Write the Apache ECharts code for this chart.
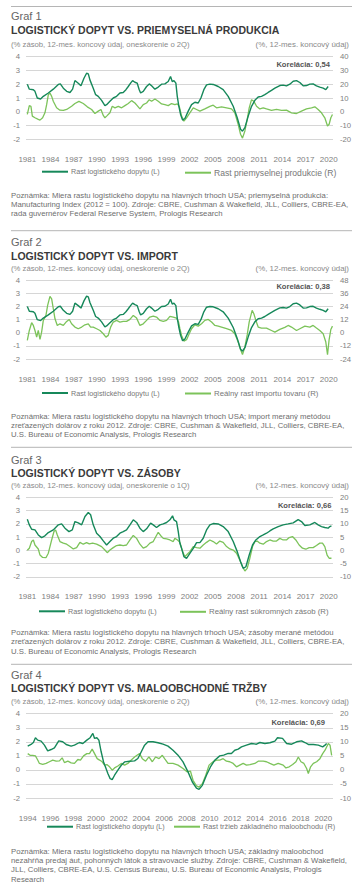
<!DOCTYPE html>
<html><head><meta charset="utf-8">
<script src="https://cdn.jsdelivr.net/npm/echarts@6/dist/echarts.min.js"></script>
<style>html,body{margin:0;padding:0;background:#fff}#c{width:362px;height:892px}</style>
</head><body><div id="c"></div>
<script>
// ---------- tick labels ----------
const ticks1981 = [1981,1984,1987,1990,1993,1996,1999,2002,2005,2008,2011,2014,2017,2020];
const ticks1994 = [1994,1996,1998,2000,2002,2004,2006,2008,2010,2012,2014,2016,2018,2020];

// ---------- series data: [year, value] ----------
// logistics demand growth, lag 2Q (charts 1 & 2, left axis)
const demandLag2 = [[1981.00,2.0],[1981.26,1.64],[1981.78,1.6],[1981.99,1.48],[1982.29,1.0],[1982.72,0.93],[1983.07,1.12],[1983.72,1.36],[1984.36,1.64],[1985.01,1.98],[1985.27,2.02],[1985.66,1.71],[1986.09,1.48],[1986.52,1.4],[1986.86,1.64],[1987.16,2.26],[1987.59,2.07],[1987.94,1.88],[1988.33,2.43],[1988.67,2.79],[1988.89,2.74],[1989.10,2.31],[1989.53,1.71],[1989.84,1.24],[1990.18,1.12],[1990.61,0.83],[1991.04,0.45],[1991.26,0.52],[1991.69,0.76],[1992.12,1.0],[1992.55,1.12],[1992.98,1.36],[1993.41,1.4],[1993.76,1.6],[1994.06,1.83],[1994.36,2.07],[1994.62,2.26],[1994.92,2.14],[1995.22,2.07],[1995.48,1.6],[1995.66,1.36],[1996.00,1.48],[1996.43,1.83],[1996.78,2.02],[1997.08,1.88],[1997.51,1.64],[1997.94,1.79],[1998.37,2.0],[1998.80,2.02],[1999.23,2.19],[1999.53,2.55],[1999.75,2.19],[1999.97,2.26],[2000.22,2.07],[2000.40,1.12],[2000.61,0.4],[2000.83,-0.19],[2001.09,-0.6],[2001.39,-0.48],[2001.82,0.05],[2002.25,0.52],[2002.68,0.69],[2003.11,0.64],[2003.46,1.0],[2003.84,1.6],[2004.19,1.95],[2004.62,2.0],[2005.05,1.98],[2005.70,1.83],[2006.34,1.6],[2006.99,1.12],[2007.64,0.4],[2008.16,-0.43],[2008.59,-1.26],[2008.84,-1.4],[2009.15,-1.14],[2009.58,-0.31],[2010.01,0.4],[2010.44,0.83],[2010.87,1.07],[2011.30,1.12],[2011.73,1.24],[2012.16,1.4],[2012.59,1.55],[2013.03,1.71],[2013.67,1.9],[2014.10,1.93],[2014.53,1.88],[2014.97,2.0],[2015.40,2.21],[2015.83,2.26],[2016.26,2.12],[2016.69,1.88],[2017.12,1.9],[2017.55,2.0],[2017.98,2.02],[2018.41,1.88],[2018.84,1.79],[2019.28,1.71],[2019.62,1.6],[2019.92,1.83]];

// industrial production growth (chart 1, right axis)
const industrial = [[1981.00,-1.9],[1981.26,4.5],[1981.47,4.0],[1981.65,-3.1],[1981.99,-4.3],[1982.42,-5.5],[1982.64,-6.0],[1982.98,-4.3],[1983.28,-0.7],[1983.50,5.2],[1983.72,12.4],[1983.93,13.6],[1984.15,11.2],[1984.36,7.6],[1984.79,2.9],[1985.22,1.2],[1985.66,1.0],[1986.09,1.7],[1986.73,4.0],[1987.16,6.0],[1987.68,7.6],[1988.24,6.0],[1988.76,3.6],[1989.32,1.7],[1989.75,-1.2],[1990.18,0.5],[1990.53,1.7],[1990.83,-2.6],[1991.04,-4.3],[1991.26,-3.1],[1991.69,-0.7],[1991.99,4.0],[1992.34,2.9],[1992.77,4.0],[1993.20,2.9],[1993.63,4.5],[1994.06,6.0],[1994.49,8.1],[1994.92,6.4],[1995.22,4.5],[1995.57,2.1],[1996.00,5.2],[1996.43,6.4],[1996.78,8.8],[1997.08,7.6],[1997.51,9.3],[1997.94,7.6],[1998.37,5.7],[1998.80,5.2],[1999.23,4.5],[1999.66,6.0],[2000.09,5.2],[2000.40,5.7],[2000.66,4.0],[2000.96,-3.1],[2001.26,-6.7],[2001.60,-4.3],[2002.03,-0.7],[2002.47,2.9],[2002.90,1.7],[2003.33,0.5],[2003.97,2.1],[2004.62,4.0],[2005.05,4.8],[2005.48,2.9],[2006.13,3.6],[2006.78,2.9],[2007.42,2.1],[2007.85,-0.7],[2008.28,-9.0],[2008.59,-16.2],[2008.84,-19.0],[2009.15,-13.8],[2009.45,-5.5],[2009.71,2.9],[2010.01,8.8],[2010.31,7.6],[2010.66,4.0],[2011.09,2.1],[2011.52,2.9],[2011.95,2.1],[2012.59,1.0],[2013.24,1.7],[2013.89,1.0],[2014.53,1.2],[2015.18,-0.7],[2015.83,-1.2],[2016.47,0.5],[2017.12,2.1],[2017.77,2.9],[2018.20,3.6],[2018.63,1.7],[2019.06,-0.7],[2019.49,-4.3],[2019.84,-10.2],[2020.05,-9.0],[2020.27,-4.3],[2020.48,-1.9]];

// real goods import growth (chart 2, right axis)
const imports = [[1981.00,-7.0],[1981.26,2.1],[1981.56,9.2],[1981.78,6.7],[1981.99,2.1],[1982.21,-4.0],[1982.42,2.1],[1982.64,-6.1],[1982.85,0.6],[1983.07,11.3],[1983.41,15.9],[1983.63,25.0],[1983.93,33.3],[1984.15,31.1],[1984.36,22.0],[1984.58,12.8],[1984.88,6.7],[1985.22,8.2],[1985.66,6.7],[1986.09,10.4],[1986.43,12.2],[1986.73,8.2],[1987.16,5.2],[1987.59,3.7],[1988.03,5.2],[1988.46,7.3],[1988.89,8.2],[1989.19,5.2],[1989.53,5.2],[1989.97,3.7],[1990.40,2.1],[1990.83,-0.9],[1991.17,-4.0],[1991.47,-2.4],[1991.78,5.2],[1992.12,9.8],[1992.55,11.3],[1992.98,9.8],[1993.41,10.4],[1993.84,10.4],[1994.28,12.2],[1994.71,15.9],[1995.14,13.4],[1995.57,6.7],[1996.00,8.2],[1996.43,11.3],[1996.86,14.4],[1997.29,15.3],[1997.72,14.4],[1998.16,11.3],[1998.59,10.4],[1999.02,11.3],[1999.45,15.0],[1999.88,14.4],[2000.31,13.4],[2000.57,9.8],[2000.74,3.7],[2000.96,-2.4],[2001.26,-7.6],[2001.60,-6.4],[2001.95,-0.9],[2002.25,3.7],[2002.68,7.3],[2003.11,6.1],[2003.54,8.2],[2003.97,11.3],[2004.41,12.2],[2004.84,9.8],[2005.27,6.7],[2005.70,6.1],[2006.13,5.2],[2006.78,3.7],[2007.42,2.1],[2007.85,-0.9],[2008.28,-8.5],[2008.59,-15.3],[2008.84,-20.0],[2009.15,-13.0],[2009.45,-2.0],[2009.71,10.0],[2010.09,20.5],[2010.31,17.4],[2010.57,11.3],[2010.87,5.2],[2011.30,4.3],[2011.95,4.3],[2012.59,2.1],[2013.03,0.6],[2013.67,3.1],[2014.32,4.9],[2014.75,6.7],[2015.18,5.2],[2015.83,2.1],[2016.26,3.7],[2016.91,6.1],[2017.55,5.2],[2017.98,6.7],[2018.41,4.3],[2018.84,2.1],[2019.28,-0.9],[2019.62,-8.5],[2019.84,-20.0],[2020.05,-6.2],[2020.27,3.0],[2020.48,6.1]];

// logistics demand growth, lag 1Q (chart 3, left axis)
const demandLag1 = [[1981.00,2.35],[1981.26,1.92],[1981.56,1.59],[1981.99,1.54],[1982.42,1.16],[1982.85,0.96],[1983.28,1.09],[1983.72,1.34],[1984.36,1.54],[1985.01,1.92],[1985.44,2.0],[1985.87,1.67],[1986.39,1.41],[1986.82,1.54],[1987.16,2.17],[1987.59,2.07],[1988.03,1.92],[1988.46,2.55],[1988.89,2.85],[1989.19,2.68],[1989.53,1.92],[1989.97,1.29],[1990.40,1.04],[1990.83,0.71],[1991.26,0.4],[1991.69,0.66],[1992.12,0.91],[1992.55,1.04],[1992.98,1.29],[1993.41,1.41],[1993.84,1.54],[1994.28,1.92],[1994.71,2.3],[1995.14,2.1],[1995.57,1.67],[1996.00,1.41],[1996.43,1.62],[1996.95,2.05],[1997.29,1.92],[1997.72,1.72],[1998.16,1.92],[1998.59,2.0],[1999.02,2.1],[1999.45,2.3],[1999.79,2.6],[1999.97,2.3],[2000.31,2.17],[2000.53,1.41],[2000.74,0.53],[2000.96,0.15],[2001.26,-0.48],[2001.60,-0.61],[2002.03,-0.23],[2002.47,0.15],[2002.90,0.58],[2003.33,0.58],[2003.76,0.91],[2004.19,1.54],[2004.62,1.92],[2005.05,2.02],[2005.70,1.99],[2006.34,1.79],[2006.99,1.41],[2007.64,0.66],[2008.16,-0.1],[2008.59,-0.86],[2008.93,-1.36],[2009.28,-1.24],[2009.71,-0.35],[2010.14,0.4],[2010.57,0.78],[2011.09,1.04],[2011.52,1.16],[2011.95,1.29],[2012.38,1.46],[2012.81,1.62],[2013.46,1.79],[2014.10,1.92],[2014.75,1.99],[2015.40,2.07],[2016.04,2.32],[2016.47,2.17],[2016.91,1.87],[2017.55,1.92],[2018.20,2.1],[2018.63,1.92],[2019.06,1.79],[2019.49,1.72],[2019.92,1.67],[2020.14,1.79],[2020.35,1.84]];

// real private inventories growth (chart 3, right axis)
const inventory = [[1981.00,0.0],[1981.26,0.8],[1981.56,3.3],[1981.78,3.9],[1981.99,2.0],[1982.42,0.5],[1982.64,-1.8],[1982.98,-2.7],[1983.41,-2.8],[1983.72,-1.1],[1984.15,3.9],[1984.45,7.1],[1984.66,7.7],[1984.88,5.8],[1985.22,3.3],[1985.66,2.7],[1986.09,2.3],[1986.52,1.4],[1986.95,0.5],[1987.38,1.0],[1987.81,3.0],[1988.24,2.3],[1988.67,2.9],[1989.02,2.4],[1989.45,2.7],[1989.97,2.3],[1990.61,1.4],[1991.04,0.1],[1991.34,-0.9],[1991.69,0.1],[1992.12,1.0],[1992.55,1.8],[1992.98,2.0],[1993.41,1.8],[1993.84,2.0],[1994.28,3.9],[1994.71,5.6],[1995.14,4.5],[1995.57,2.3],[1996.00,0.8],[1996.43,1.4],[1996.86,2.7],[1997.29,3.3],[1997.64,5.2],[1997.94,6.8],[1998.24,5.6],[1998.59,4.5],[1999.02,4.3],[1999.45,3.9],[1999.88,3.3],[2000.09,4.5],[2000.44,3.9],[2000.74,3.0],[2001.09,-0.5],[2001.39,-2.4],[2001.69,-1.5],[2002.03,-0.5],[2002.47,1.4],[2002.90,1.0],[2003.33,0.8],[2003.76,2.0],[2004.19,3.0],[2004.62,3.9],[2005.05,3.3],[2005.48,2.4],[2005.91,3.5],[2006.34,3.0],[2006.78,1.4],[2007.21,0.5],[2007.64,0.1],[2008.07,-1.1],[2008.50,-3.7],[2008.84,-6.2],[2009.15,-7.8],[2009.45,-6.8],[2009.79,-3.0],[2010.14,1.4],[2010.44,3.3],[2010.74,3.5],[2011.09,2.7],[2011.52,2.3],[2011.95,3.3],[2012.38,3.9],[2012.81,3.5],[2013.24,3.5],[2013.67,4.5],[2014.10,3.9],[2014.53,3.9],[2014.88,4.8],[2015.31,5.2],[2015.74,3.9],[2016.17,2.0],[2016.60,0.8],[2017.03,0.4],[2017.47,1.0],[2017.98,1.0],[2018.41,1.8],[2018.84,2.7],[2019.19,2.7],[2019.49,1.4],[2019.79,-1.8],[2020.05,-3.0],[2020.35,-3.0]];

// logistics demand growth (chart 4, left axis)
const demandRetail = [[1994.00,1.69],[1994.29,1.81],[1994.50,1.95],[1994.68,2.29],[1994.88,2.12],[1995.18,2.05],[1995.47,1.76],[1995.76,1.36],[1996.06,1.45],[1996.35,1.57],[1996.73,2.07],[1997.08,2.0],[1997.38,1.81],[1997.82,1.69],[1998.11,1.76],[1998.55,1.95],[1998.85,1.88],[1999.20,2.12],[1999.49,2.29],[1999.73,2.6],[1999.88,2.24],[2000.08,2.29],[2000.26,2.12],[2000.46,1.29],[2000.67,0.57],[2000.84,0.21],[2001.05,-0.26],[2001.25,-0.62],[2001.43,-0.69],[2001.64,-0.38],[2001.93,-0.02],[2002.23,0.33],[2002.52,0.57],[2002.96,0.62],[2003.40,0.64],[2003.69,0.81],[2003.99,1.29],[2004.28,1.76],[2004.58,2.0],[2005.02,2.0],[2005.46,1.93],[2005.90,1.83],[2006.34,1.69],[2006.78,1.4],[2007.22,1.05],[2007.66,0.57],[2008.10,-0.14],[2008.48,-0.86],[2008.84,-1.29],[2009.07,-1.38],[2009.36,-1.1],[2009.72,-0.38],[2010.07,0.21],[2010.45,0.69],[2010.89,1.0],[2011.24,1.05],[2011.63,1.17],[2011.92,1.17],[2012.21,1.4],[2012.51,1.48],[2012.80,1.64],[2013.24,1.76],[2013.68,1.88],[2014.12,1.83],[2014.42,1.95],[2014.86,1.88],[2015.30,1.93],[2015.74,2.05],[2015.97,2.29],[2016.41,2.24],[2016.77,1.88],[2017.21,1.83],[2017.65,2.0],[2018.09,2.07],[2018.38,1.95],[2018.68,1.81],[2019.12,1.81],[2019.56,1.76],[2019.94,1.64],[2020.15,1.76],[2020.29,1.88]];

// core retail sales growth (chart 4, right axis)
const retail = [[1994.00,5.8],[1994.21,5.2],[1994.44,5.2],[1994.68,5.0],[1994.88,3.5],[1995.03,2.3],[1995.32,2.0],[1995.62,2.3],[1995.91,2.9],[1996.20,3.5],[1996.50,3.1],[1996.79,3.2],[1997.03,4.3],[1997.23,2.6],[1997.53,3.1],[1997.82,2.5],[1998.11,2.3],[1998.41,3.7],[1998.64,3.5],[1998.91,5.0],[1999.20,5.8],[1999.43,5.8],[1999.67,7.4],[1999.88,5.8],[2000.11,4.0],[2000.32,3.5],[2000.55,2.9],[2000.76,1.7],[2000.96,1.9],[2001.20,1.1],[2001.43,-0.1],[2001.64,0.7],[2001.93,1.4],[2002.23,2.3],[2002.52,1.7],[2002.81,2.3],[2003.11,3.5],[2003.40,4.6],[2003.61,5.2],[2003.84,5.8],[2004.08,4.0],[2004.37,3.1],[2004.66,4.6],[2004.96,2.9],[2005.25,4.6],[2005.55,4.0],[2005.84,5.2],[2006.04,4.0],[2006.34,2.3],[2006.78,2.3],[2007.22,1.7],[2007.66,0.5],[2008.01,-0.7],[2008.31,-0.4],[2008.54,-3.7],[2008.84,-5.7],[2009.07,-6.1],[2009.36,-4.9],[2009.66,-1.9],[2009.95,1.7],[2010.30,2.9],[2010.60,3.5],[2010.89,3.5],[2011.19,4.0],[2011.48,3.1],[2011.77,2.9],[2012.07,2.3],[2012.36,1.1],[2012.65,1.7],[2012.95,2.3],[2013.24,1.7],[2013.54,1.9],[2013.98,2.3],[2014.27,3.1],[2014.71,3.1],[2015.00,2.9],[2015.30,2.3],[2015.65,1.7],[2016.03,2.3],[2016.47,1.7],[2016.71,0.7],[2017.00,1.1],[2017.30,1.9],[2017.59,2.9],[2017.80,4.6],[2018.03,2.9],[2018.29,2.3],[2018.53,0.5],[2018.68,-1.3],[2018.88,1.1],[2019.12,2.3],[2019.41,2.9],[2019.70,4.0],[2019.94,5.8],[2020.15,7.0],[2020.44,9.4],[2020.59,8.8],[2020.73,5.2]];

// ---------- texts ----------
const grafLabels = ['Graf 1','Graf 2','Graf 3','Graf 4'];
const titles = ['LOGISTICKÝ DOPYT VS. PRIEMYSELNÁ PRODUKCIA','LOGISTICKÝ DOPYT VS. IMPORT','LOGISTICKÝ DOPYT VS. ZÁSOBY','LOGISTICKÝ DOPYT VS. MALOOBCHODNÉ TRŽBY'];
const subLeft = ['(% zásob, 12-mes. koncový údaj, oneskorenie o 2Q)','(% zásob, 12-mes. koncový údaj, oneskorenie o 2Q)','(% zásob, 12-mes. koncový údaj, oneskorenie o 1Q)','(% zásob, 12-mes. koncový údaj, oneskorenie o 2Q)'];
const subRight = '(%, 12-mes. koncový údaj)';
const correlations = ['Korelácia: 0,54','Korelácia: 0,38','Korelácia: 0,66','Korelácia: 0,69'];
const darkName = 'Rast logistického dopytu (L)';
const lightNames = ['Rast priemyselnej produkcie (R)','Reálny rast importu tovaru (R)','Reálny rast súkromných zásob (R)','Rast tržieb základného maloobchodu (R)'];
const notes = [
 ['Poznámka: Miera rastu logistického dopytu na hlavných trhoch USA; priemyselná produkcia:','Manufacturing Index (2012 = 100). Zdroje: CBRE, Cushman & Wakefield, JLL, Colliers, CBRE-EA,','rada guvernérov Federal Reserve System, Prologis Research'],
 ['Poznámka: Miera rastu logistického dopytu na hlavných trhoch USA; import meraný metódou','zreťazených dolárov z roku 2012. Zdroje: CBRE, Cushman & Wakefield, JLL, Colliers, CBRE-EA,','U.S. Bureau of Economic Analysis, Prologis Research'],
 ['Poznámka: Miera rastu logistického dopytu na hlavných trhoch USA; zásoby merané metódou','zreťazených dolárov z roku 2012. Zdroje: CBRE, Cushman & Wakefield, JLL, Colliers, CBRE-EA,','U.S. Bureau of Economic Analysis, Prologis Research'],
 ['Poznámka: Miera rastu logistického dopytu na hlavných trhoch USA; základný maloobchod','nezahŕňa predaj áut, pohonných látok a stravovacie služby. Zdroje: CBRE, Cushman & Wakefield,','JLL, Colliers, CBRE-EA, U.S. Census Bureau, U.S. Bureau of Economic Analysis, Prologis','Research']
];
const rightAxes = [[-20,40,10],[-24,48,12],[-10,20,5],[-10,20,5]];

// ---------- layout ----------
const FONT = "'Liberation Sans', Arial, sans-serif";
const DARK = '#16885a', LIGHT = '#7cc35a';
const L = [
 {rule:6.5, graf:16, title:30, sub:44, top:56.5, h:83, kor:[330,64.3], legY:172.7, legX:[42,185], legFs:8.6, note:195, xmin:1980.83, xmax:2020.55, ticks:ticks1981, dark:demandLag2, light:industrial},
 {rule:230.7, graf:241.7, title:255.7, sub:268.3, top:280.3, h:78.7, kor:[330,286.3], legY:394, legX:[42,185], legFs:7.8, note:416, xmin:1980.83, xmax:2020.55, ticks:ticks1981, dark:demandLag2, light:imports},
 {rule:447.3, graf:460, title:472.7, sub:485, top:497.3, h:79.5, kor:[331.5,505.3], legY:612.3, legX:[39,180], legFs:7.8, note:632.5, xmin:1980.83, xmax:2020.55, ticks:ticks1981, dark:demandLag1, light:inventory},
 {rule:664.3, graf:675, title:688.3, sub:701.7, top:713.7, h:84.3, kor:[325,722], legY:827.7, legX:[47,174], legFs:7.3, note:851, xmin:1993.85, xmax:2020.85, ticks:ticks1994, dark:demandRetail, light:retail}
];

const grid=[], xAxis=[], yAxis=[], series=[], legend=[], graphic=[];
function txt(t,x,y,size,color,weight,align){
  graphic.push({type:'text', silent:true, style:{text:t, x:x, y:y, fill:color, font:(weight||'normal')+' '+size+'px '+FONT, textAlign:align||'left', textVerticalAlign:'middle'}});
}
L.forEach((c,i)=>{
  graphic.push({type:'line', silent:true, shape:{x1:11,y1:c.rule,x2:352,y2:c.rule}, style:{stroke:'#b5b5b5', lineWidth:1}});
  txt(grafLabels[i],11,c.graf,11,'#666');
  txt(titles[i],11,c.title,10.5,'#3a3a3a','bold');
  txt(subLeft[i],11,c.sub,7.7,'#8a8a8a');
  txt(subRight,349,c.sub,7.9,'#8a8a8a','normal','right');
  txt(correlations[i],c.kor[0],c.kor[1],7.6,'#555','bold','right');
  notes[i].forEach((ln,k)=>txt(ln,11,c.note+k*9.4,7.75,'#6e6e6e'));

  grid.push({left:26, width:307, top:c.top, height:c.h});
  xAxis.push({type:'value', gridIndex:i, min:c.xmin, max:c.xmax,
    axisLine:{show:false}, axisTick:{show:false}, splitLine:{show:false},
    axisLabel:{customValues:c.ticks, formatter:v=>String(Math.round(v)), fontSize:8, color:'#808080', fontFamily:FONT, margin:16}});
  yAxis.push({type:'value', gridIndex:i, position:'left', min:-2, max:4, interval:1,
    axisLine:{show:false}, axisTick:{show:false},
    splitLine:{lineStyle:{color:'#d6d6d6', width:1}},
    axisLabel:{fontSize:7.7, color:'#808080', fontFamily:FONT, margin:6}});
  const ra = rightAxes[i];
  yAxis.push({type:'value', gridIndex:i, position:'right', min:ra[0], max:ra[1], interval:ra[2],
    axisLine:{show:false}, axisTick:{show:false}, splitLine:{show:false},
    axisLabel:{fontSize:7.7, color:'#808080', fontFamily:FONT, margin:7}});
  series.push({type:'line', name:darkName, xAxisIndex:i, yAxisIndex:2*i, data:c.dark, showSymbol:false, symbol:'none',
    lineStyle:{color:DARK, width:1.4}, itemStyle:{color:DARK}, z:3});
  series.push({type:'line', name:lightNames[i], xAxisIndex:i, yAxisIndex:2*i+1, data:c.light, showSymbol:false, symbol:'none',
    lineStyle:{color:LIGHT, width:1.3}, itemStyle:{color:LIGHT}, z:2});
  legend.push({data:[darkName], left:c.legX[0], top:c.legY-4.5, padding:0, icon:'rect', itemWidth:26, itemHeight:2, selectedMode:false,
    textStyle:{fontSize:7.2, color:'#777', fontFamily:FONT, padding:[0,0,0,-2]}});
  legend.push({data:[lightNames[i]], left:c.legX[1], top:c.legY-4.5, padding:0, icon:'rect', itemWidth:26, itemHeight:2, selectedMode:false,
    textStyle:{fontSize:c.legFs, color:'#777', fontFamily:FONT, padding:[0,0,0,-2]}});
});

const chart = echarts.init(document.getElementById('c'), null, {renderer:'svg', width:362, height:892});
chart.setOption({animation:false, backgroundColor:'#fff', grid, xAxis, yAxis, series, legend, graphic});
</script></body></html>
